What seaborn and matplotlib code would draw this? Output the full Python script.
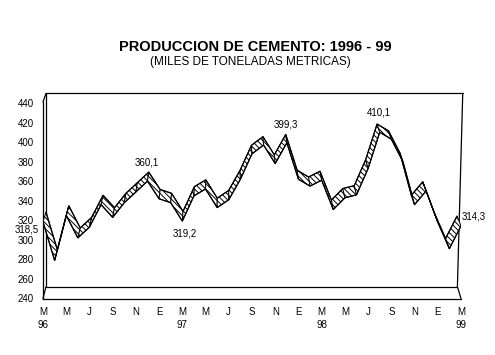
import numpy as np
import pandas as pd
import matplotlib
matplotlib.use("Agg")
import matplotlib.pyplot as plt
import seaborn as sns
from matplotlib.patches import Polygon

# ---- data (monthly, Mar 1996 .. Mar 1999) ----
values = [318.5, 279, 325, 302, 313, 336, 323, 338, 349, 360.1, 342, 338,
          319.2, 345, 352, 333, 341, 362, 388, 397, 378, 399.3, 362, 355,
          361, 331, 343, 346, 373, 410.1, 403, 380, 336, 350, 318, 291,
          314.3]
month_letters = ["M", "A", "M", "J", "J", "A", "S", "O", "N", "D", "E", "F"] * 3 + ["M"]
year_labels = {0: "96", 12: "97", 24: "98", 36: "99"}
point_labels = {0: "318,5", 9: "360,1", 12: "319,2", 21: "399,3", 29: "410,1", 36: "314,3"}
yticks = list(range(240, 441, 20))

# perspective of the 3D ribbon (vanishing point + depth scale)
XVP, YVP, K = 15.4, 910.0, 0.98325

sns.set_theme(style="white")
plt.rcParams["font.family"] = ["Liberation Sans", "DejaVu Sans"]
plt.rcParams["hatch.linewidth"] = 0.7
plt.rcParams["hatch.color"] = "black"

df = pd.DataFrame({"idx": np.arange(len(values)), "value": values})
df["back_x"] = XVP + K * (df["idx"] - XVP)
df["back_y"] = YVP + K * (df["value"] - YVP)

fig = plt.figure(figsize=(4.95, 3.55), dpi=100)
ax = fig.add_axes([43 / 495, (355 - 298.5) / 355, 418 / 495, 195.5 / 355])
ax.set_xlim(0, 36)
ax.set_ylim(240, 440)

# ribbon faces
for i in range(len(df) - 1):
    a, b = df.iloc[i], df.iloc[i + 1]
    quad = Polygon([[a.idx, a.value], [b.idx, b.value],
                    [b.back_x, b.back_y], [a.back_x, a.back_y]],
                   closed=True, facecolor="white", edgecolor="black",
                   hatch="\\\\\\\\\\\\", lw=0.7, zorder=3)
    ax.add_patch(quad)

sns.lineplot(data=df, x="idx", y="value", color="black", lw=0.9, ax=ax,
             zorder=4, sort=False)
sns.lineplot(data=df, x="back_x", y="back_y", color="black", lw=0.9, ax=ax,
             zorder=4, sort=False)

# wall / floor frame
fr = dict(color="black", lw=0.9, clip_on=False, zorder=2)
ax.plot([0.26, 36.15], [449.9, 449.9], **fr)
ax.plot([36.15, 35.69], [449.9, 252.1], **fr)
ax.plot([0.26, 35.69], [252.1, 252.1], **fr)
ax.plot([35.69, 36], [252.1, 240], **fr)
ax.plot([0.26, 0], [252.1, 240], **fr)
ax.plot([0.26, 0.26], [252.1, 449.9], **fr)
ax.plot([0, 0.26], [441, 449.9], **fr)

# axes styling
for s in ["top", "right"]:
    ax.spines[s].set_visible(False)
for s in ["left", "bottom"]:
    ax.spines[s].set_color("black")
    ax.spines[s].set_linewidth(0.9)
ax.spines["left"].set_bounds(240, 441)

ax.set_yticks(yticks)
ax.set_yticklabels([str(t) for t in yticks])
xt = list(range(len(values)))
xl = []
for i in xt:
    if i % 2 == 0:
        lab = month_letters[i]
        if i in year_labels:
            lab += "\n" + year_labels[i]
        xl.append(lab)
    else:
        xl.append("")
ax.set_xticks(xt)
ax.set_xticklabels(xl, linespacing=1.4, va="top")
ax.tick_params(axis="both", direction="out", length=3, width=0.8,
               color="black", labelsize=7, labelcolor="black")
ax.tick_params(axis="y", pad=3.5)
ax.tick_params(axis="x", pad=3)
ax.set_xlabel("")
ax.set_ylabel("")

# data labels
offsets = {0: (-4, -8, "right"), 9: (-1, 19, "center"), 12: (2, -12, "center"),
           21: (-1, 18, "center"), 29: (-1, 20, "center"), 36: (1, 9, "left")}
for i, txt in point_labels.items():
    dx, dy, ha = offsets[i]
    ax.annotate(txt, (i, values[i]), xytext=(dx, dy), textcoords="offset pixels",
                ha=ha, va="center", fontsize=7, color="black",
                annotation_clip=False, zorder=6)

fig.text(255 / 495, 1 - 47 / 355, "PRODUCCION DE CEMENTO: 1996 - 99",
         ha="center", va="center", fontsize=10.5, fontweight="bold", color="black")
fig.text(250 / 495, 1 - 62 / 355, "(MILES DE TONELADAS METRICAS)",
         ha="center", va="center", fontsize=8.5, color="black")

fig.savefig("out.png", dpi=100, facecolor="white")
